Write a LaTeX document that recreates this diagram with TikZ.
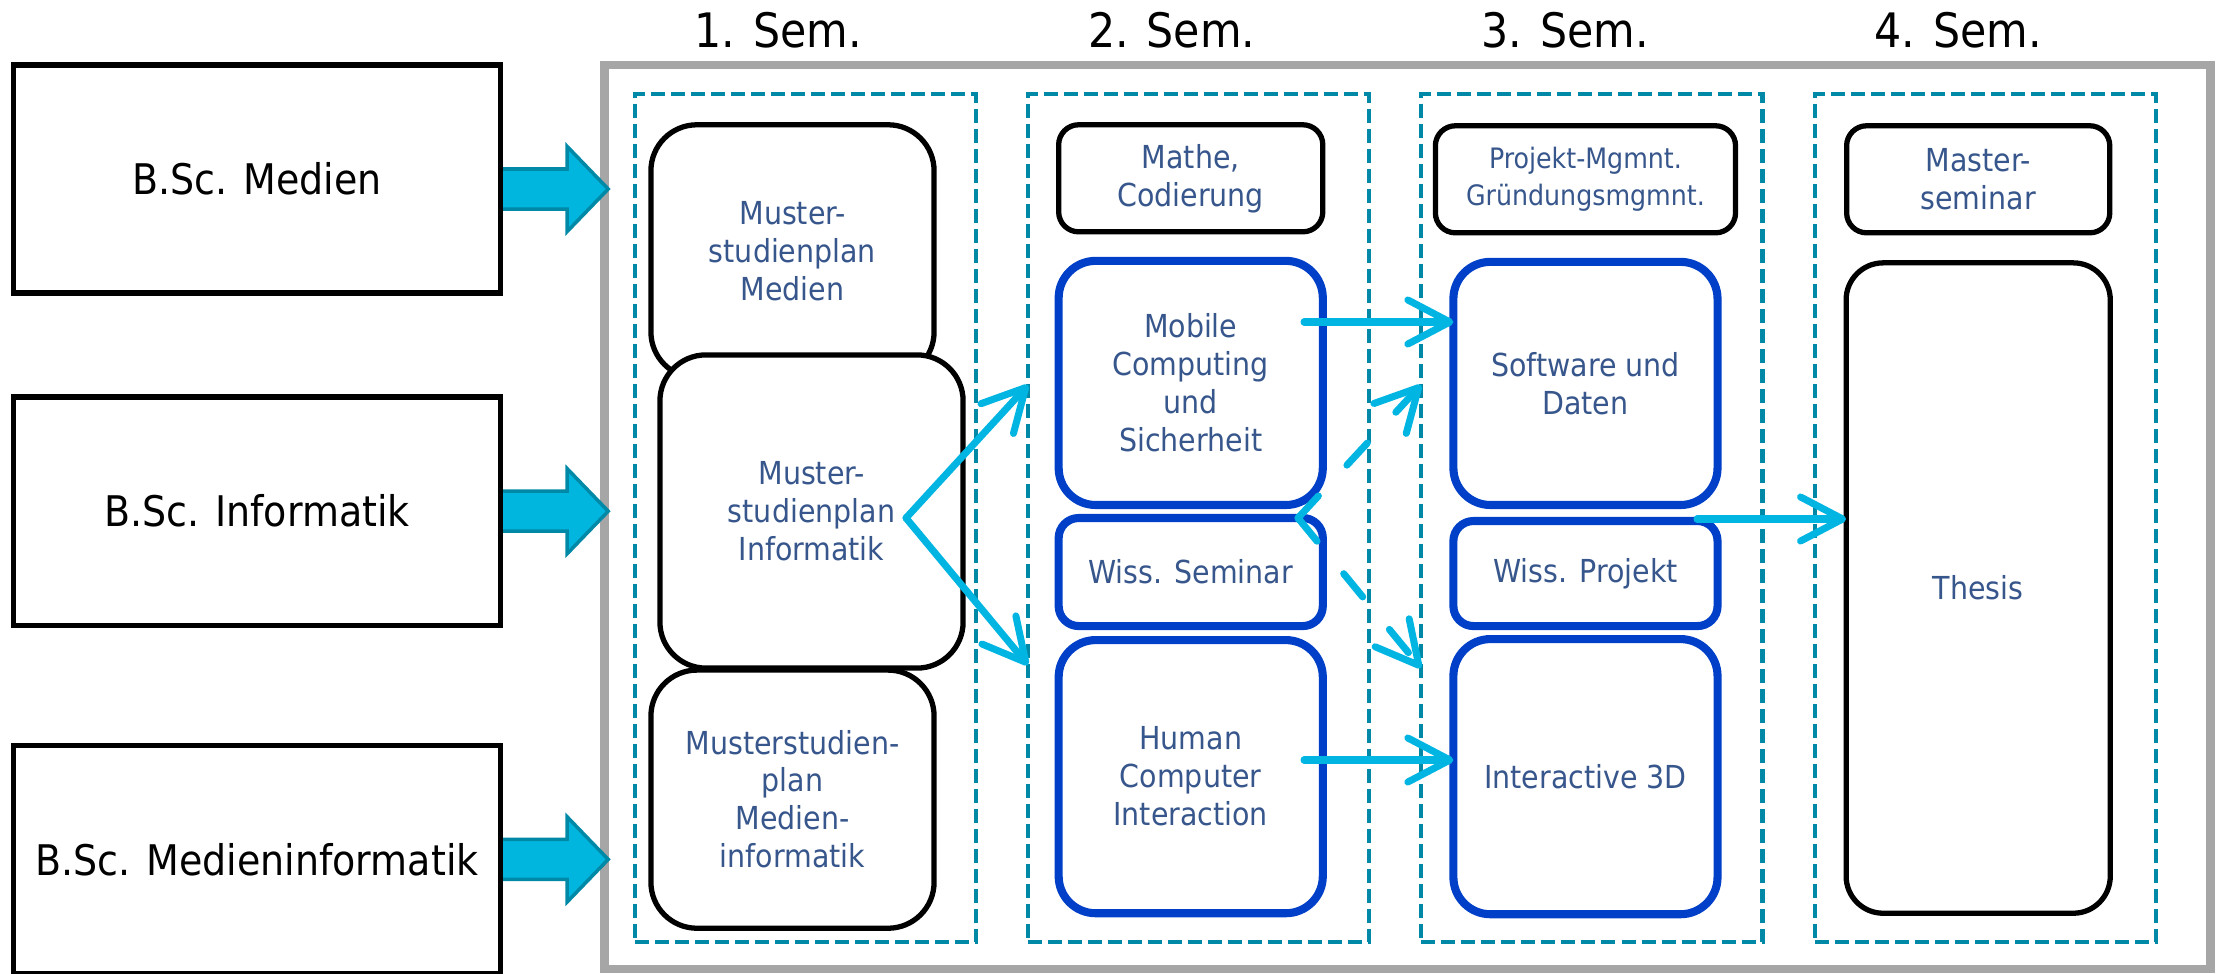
\documentclass[tikz,border=0pt]{standalone}
\usepackage{fontspec}
\setmainfont{DejaVu Sans Condensed}
\usepackage{tikz}
\usetikzlibrary{positioning, arrows.meta, calc}

\definecolor{frameGray}{RGB}{166,166,166}
\definecolor{colTeal}{RGB}{0,137,167}
\definecolor{flowCyan}{RGB}{0,181,226}
\definecolor{modBlue}{RGB}{0,64,200}
\definecolor{txtBlue}{RGB}{55,86,140}
\definecolor{arrowFill}{RGB}{0,182,222}
\definecolor{arrowEdge}{RGB}{0,137,167}

\tikzstyle{semlabel} = [%
  inner sep=0pt,
  text=black,
  font=\fontsize{13.5}{16}\selectfont
]
\tikzstyle{bsc} = [%
  rectangle,
  draw=black,
  line width=1.5pt,
  minimum width=4.86cm,
  minimum height=2.28cm,
  inner sep=0pt,
  outer sep=0pt,
  text=black,
  font=\fontsize{12}{14}\selectfont
]
\tikzstyle{frame} = [%
  rectangle,
  draw=frameGray,
  line width=2.4pt,
  minimum width=16.05cm,
  minimum height=9.04cm,
  inner sep=0pt,
  outer sep=0pt
]
\tikzstyle{semcol} = [%
  rectangle,
  draw=colTeal,
  line width=1.2pt,
  dash pattern=on 0.14cm off 0.06cm,
  minimum width=3.41cm,
  minimum height=8.48cm,
  inner sep=0pt,
  outer sep=0pt
]
\tikzstyle{plan} = [%
  rectangle,
  rounded corners=0.46cm,
  draw=black,
  line width=1.5pt,
  fill=white,
  align=center,
  text=txtBlue,
  inner sep=0pt,
  outer sep=0pt,
  font=\fontsize{9}{10.8}\selectfont
]
\tikzstyle{hdbox} = [%
  plan,
  rounded corners=0.2cm,
  minimum width=2.64cm,
  minimum height=1.07cm
]
\tikzstyle{modul} = [%
  plan,
  draw=modBlue,
  line width=2.3pt,
  rounded corners=0.37cm,
  minimum width=2.64cm
]
\tikzstyle{fatarrow} = [%
  draw=arrowEdge,
  fill=arrowFill,
  line width=1pt
]
\tikzstyle{flow} = [%
  draw=flowCyan,
  line width=2pt,
  line cap=round,
  line join=round,
  -{Straight Barb[length=0.42cm,width=0.44cm,round]}
]
\tikzstyle{optflow} = [%
  flow,
  dash pattern=on 0.3cm off 0.42cm
]

\begin{document}
\begin{tikzpicture}[x=0.01cm,y=-0.01cm]
  \useasboundingbox (0,0) rectangle (2216,973);

  % Frame and semesters
  \node[frame] (F) at (1407.5,517) {};
  \node[semcol] (C1) at (805.5,518) {};
  \node[semcol,right=0.52cm of C1] (C2) {};
  \node[semcol,right=0.52cm of C2] (C3) {};
  \node[semcol,right=0.52cm of C3] (C4) {};

  \node[semlabel,above=0.45cm of C1,xshift=-0.27cm] (S1) {1. Sem.};
  \node[semlabel,above=0.45cm of C2,xshift=-0.27cm] (S2) {2. Sem.};
  \node[semlabel,above=0.45cm of C3,xshift=-0.27cm] (S3) {3. Sem.};
  \node[semlabel,above=0.45cm of C4,xshift=-0.27cm] (S4) {4. Sem.};

  % Bachelor entries
  \node[bsc] (B1) at (257,179) {B.Sc. Medien};
  \node[bsc,below=1.04cm of B1] (B2) {B.Sc. Informatik};
  \node[bsc,below=1.2cm of B2] (B3) {B.Sc. Medieninformatik};
  \draw[fatarrow] ([yshift=0.1cm]B1.east) -- ++(0.67cm,0) -- ++(0,0.225cm)
    -- ++(0.41cm,-0.425cm) -- ++(-0.41cm,-0.425cm) -- ++(0,0.225cm) -- ++(-0.67cm,0) -- cycle;
  \draw[fatarrow] ([yshift=0.2cm]B2.east) -- ++(0.67cm,0) -- ++(0,0.225cm)
    -- ++(0.41cm,-0.425cm) -- ++(-0.41cm,-0.425cm) -- ++(0,0.225cm) -- ++(-0.67cm,0) -- cycle;
  \draw[fatarrow] ([yshift=0.2cm]B3.east) -- ++(0.67cm,0) -- ++(0,0.225cm)
    -- ++(0.41cm,-0.425cm) -- ++(-0.41cm,-0.425cm) -- ++(0,0.225cm) -- ++(-0.67cm,0) -- cycle;
  \draw[line width=1.5pt] (B1.north east) -- (B1.south east);
  \draw[line width=1.5pt] (B2.north east) -- (B2.south east);
  \draw[line width=1.5pt] (B3.north east) -- (B3.south east);

  % 1. Sem.
  \node[plan,minimum width=2.83cm,minimum height=2.53cm,below=0.31cm of C1.north,xshift=-0.13cm] (P1) {Muster-\\studienplan\\Medien};
  \node[plan,minimum width=3.03cm,minimum height=3.13cm,below=-0.23cm of P1,xshift=0.19cm] (P2) {Muster-\\studienplan\\Informatik};
  \node[plan,minimum width=2.83cm,minimum height=2.58cm,below=0.02cm of P2,xshift=-0.19cm] (P3) {Musterstudien-\\plan\\Medien-\\informatik};

  % 2. Sem.
  \node[hdbox,below=0.31cm of C2.north,xshift=-0.08cm] (M1) {Mathe,\\Codierung};
  \node[modul,minimum height=2.44cm,below=0.29cm of M1] (M2) {Mobile\\Computing\\und\\Sicherheit};
  \node[modul,rounded corners=0.2cm,minimum height=1.08cm,below=0.13cm of M2] (M3) {Wiss. Seminar};
  \node[modul,minimum height=2.73cm,below=0.14cm of M3] (M4) {Human\\Computer\\Interaction};

  % 3. Sem.
  \node[hdbox,minimum width=3.0cm,font=\fontsize{8}{10.5}\selectfont,below=0.32cm of C3.north,xshift=-0.065cm] (T1) {Projekt-Mgmnt.\\Gründungsmgmnt.};
  \node[modul,minimum height=2.43cm,below=0.29cm of T1] (T2) {Software und\\Daten};
  \node[modul,rounded corners=0.2cm,minimum height=1.05cm,below=0.16cm of T2] (T3) {Wiss. Projekt};
  \node[modul,minimum height=2.75cm,below=0.13cm of T3] (T4) {Interactive 3D};

  % 4. Sem.
  \node[hdbox,minimum width=2.63cm,below=0.32cm of C4.north,xshift=-0.07cm] (V1) {Master-\\seminar};
  \node[plan,rounded corners=0.37cm,minimum width=2.64cm,minimum height=6.5cm,below=0.3cm of V1] (V2) {Thesis};

  % Connector ends
  \coordinate (K1) at (906,518);
  \coordinate (K1u) at (1028,385);
  \coordinate (K1d) at (1028,665);
  \coordinate (K2) at (1298,518);
  \coordinate (K2u) at (1421,385);
  \coordinate (K2d) at (1421,668);
  \coordinate (M2out) at (1304,322);
  \coordinate (M4out) at (1304,760);
  \coordinate (T3out) at (1697,519);

  % Transitions
  \draw[flow] (K1) -- (K1u);
  \draw[flow] (K1) -- (K1d);
  \draw[optflow] (K2) -- (K2u);
  \draw[optflow] (K2) -- (K2d);
  \draw[flow] (M2out) -- (M2out -| T2.west);
  \draw[flow] (M4out) -- (M4out -| T4.west);
  \draw[flow] (T3out) -- (T3out -| V2.west);

\end{tikzpicture}
\end{document}
